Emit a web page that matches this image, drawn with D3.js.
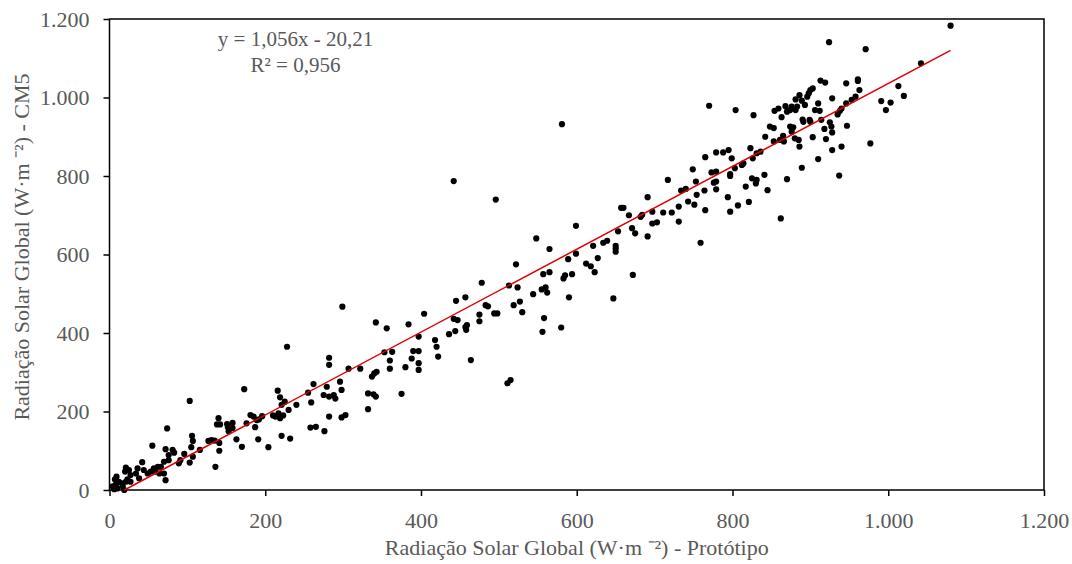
<!DOCTYPE html>
<html lang="pt">
<head>
<meta charset="UTF-8">
<title>Radiação Solar Global - CM5 x Protótipo</title>
<script src="https://d3js.org/d3.v7.min.js"></script>
<style>
  body { margin: 0; background: #fff; }
  text { font-family: "Liberation Serif", "Times New Roman", serif; fill: #595959; }
</style>
</head>
<body>
<svg width="1072" height="564"></svg>
<script>
// valores (W.m-2)
const prototipo = [
  55,72,81,83,76,96,105,42,21,25, 20,27,34,36,9,7,12,16,8,4, 6,10,17,21,23,27,19,44,49,53, 57,59,62,66,64,70,70,76,38,72, 91,89,
  173,103,74,106,107,116,127,131,135,136, 140,138,142,141,141,151,158,152,158,153, 163,170,176,181,185,189,187,192,196,191, 204,103,107,
  299,342,356,384,228,397,353,363,360,390, 397,388,360,380,397,397,282,282,307,322, 337,340,343,296,298,262,279,255,259,216,
  219,225,221,217,213,219,210,223,230,240, 275,282,288,290,282,298,303,332,332,339, 342,375,258,265,276,221,232,
  548,565,522,557,565,478,513,524,544,555, 560,562,445,457,483,486,519,527,530,494, 498,475,475,442,447,459,457,458,444,436,
  558,556,580,404,418,420,422,464,511,515,
  581,442,496,599,621,634,639,
  717,734,740,764,754,743,751,765,759,691, 657,660,667,682,684,697,711,722,731,731, 697,703,691,671,675,653,650,650,650,599,
  589,627,612,618,623,594,583,585,590,647, 672,
  770,804,827,765,779,788,795,799,823,831, 749,773,779,797,797,803,812,814,826,825, 831,830,817,821,807,794,797,776,779,779, 753,862,
  924,971,913,919,946,961,961,963,900,903, 898,896,886,881,889,893,928,910,906,912, 876,883,881,874,870,868,859,854,863,890,
  891,899,900,914,940,938,946,953,958,935, 925,927,928,918,947,920,903,940,928,977, 991,997,1003,1013,910,889,937,870,841,845,
  842,848,853,853,861,865,866,874,876,880, 885,886,836,878,
  1080,1042,1020
];
const cm5 = [
  113,104,102,95,89,92,109,71,57,51, 47,38,42,55,34,27,21,17,13,9, 2,4,9,21,27,21,0,51,42,47, 55,47,59,59,42,42,72,76,30,25, 76,68,
  257,227,157,138,125,102,125,127,126,59, 183,167,167,120,100,168,171,160,158,150, 129,110,170,191,187,178,160,180,188,129, 109,70,85,
  467,427,412,422,365,391,351,352,330,354, 354,335,309,313,323,306,337,319,309,309, 289,297,301,276,255,270,263,248,223,253,
  236,225,217,195,187,183,190,190,204,217, 242,238,242,233,187,185,191,206,246,244, 238,245,159,161,150,138,131,
  641,614,575,550,555,528,521,516,499,511, 516,503,482,491,471,468,471,480,453,450, 450,447,430,436,433,420,415,408,405,397,
  438,403,414,449,382,365,340,331,272,280,
  932,787,740,673,622,630,635,
  790,763,767,763,752,735,727,713,630,746, 719,719,700,696,701,709,707,707,722,684, 679,682,646,667,654,659,622,615,607,602,
  588,591,577,570,555,550,539,547,491,488, 548,
  979,968,955,848,860,860,866,845,871,858, 817,809,811,805,800,820,828,832,845,794, 790,781,773,734,725,746,709,783,786,766, 786,692,
  1141,1123,1043,1038,1036,1046,1042,1019,1019,1023, 1011,1002,1006,995,992,981,998,985,968,966, 977,977,968,968,964,978,972,966,950,944,
  938,943,938,943,972,966,985,994,1002,957, 937,926,911,920,928,894,899,875,866,883, 991,968,987,1029,843,821,801,792,803,764,
  900,926,922,888,892,902,888,926,913,896, 892,875,862,924,
  1183,1087,1004
];

const tickValues = [0, 200, 400, 600, 800, 1000, 1200];
const tickLabels = ["0", "200", "400", "600", "800", "1.000", "1.200"];
const equationText = ["y = 1,056x - 20,21", "R² = 0,956"];
const slope = 1.056, intercept = -20.21;
const trendX = [19.1, 1080];

const xTitle = "Radiação Solar Global (W·m ⁻²) - Protótipo";
const yTitle = "Radiação Solar Global (W·m ⁻²) - CM5";

if (prototipo.length !== cm5.length) console.error("tamanhos diferentes", prototipo.length, cm5.length);
const pontos = prototipo.map((d, i) => ({ x: d, y: cm5[i] }));

const margin = { top: 19, right: 28, bottom: 74, left: 109.5 };
const width = 1072 - margin.left - margin.right;
const height = 564 - margin.top - margin.bottom;
const fonte = "22px";

const svg = d3.select("svg");
const g = svg.append("g")
  .attr("transform", "translate(" + margin.left + "," + margin.top + ")");

const x = d3.scaleLinear().domain([0, 1200]).range([0, width]);
const y = d3.scaleLinear().domain([0, 1200]).range([height, 0]);

const xAxis = g.append("g")
  .attr("transform", "translate(0," + height + ")")
  .call(d3.axisBottom(x).tickValues(tickValues).tickFormat((d, i) => tickLabels[i]).tickSize(6).tickPadding(16));
const yAxis = g.append("g")
  .call(d3.axisLeft(y).tickValues(tickValues).tickFormat((d, i) => tickLabels[i]).tickSize(6).tickPadding(14));

[xAxis, yAxis].forEach(a => {
  a.select(".domain").remove();
  a.selectAll("line").attr("stroke", "#000").attr("stroke-width", 1.5);
  a.selectAll("text").style("font-size", fonte).attr("fill", "#595959")
    .style("font-family", '"Liberation Serif", "Times New Roman", serif');
});

g.append("rect")
  .attr("x", 0).attr("y", 0)
  .attr("width", width).attr("height", height)
  .attr("fill", "none")
  .attr("stroke", "#000")
  .attr("stroke-width", 1.5);

g.selectAll(".ponto")
  .data(pontos)
  .enter().append("circle")
  .attr("class", "ponto")
  .attr("cx", d => x(d.x))
  .attr("cy", d => y(d.y))
  .attr("r", 3.1)
  .attr("fill", "#000");

g.append("line")
  .attr("x1", x(trendX[0])).attr("y1", y(slope * trendX[0] + intercept))
  .attr("x2", x(trendX[1])).attr("y2", y(slope * trendX[1] + intercept))
  .attr("stroke", "#e00000")
  .attr("stroke-width", 1.5);

g.selectAll(".eq")
  .data(equationText)
  .enter().append("text")
  .attr("class", "eq")
  .attr("x", 186)
  .attr("y", (d, i) => 27 + i * 26)
  .attr("text-anchor", "middle")
  .style("font-size", "21px")
  .text(d => d);

svg.append("text")
  .attr("x", margin.left + width / 2)
  .attr("y", 555)
  .attr("text-anchor", "middle")
  .style("font-size", fonte)
  .text(xTitle);

svg.append("text")
  .attr("transform", "translate(29,247) rotate(-90)")
  .attr("text-anchor", "middle")
  .style("font-size", fonte)
  .text(yTitle);
</script>
</body>
</html>
